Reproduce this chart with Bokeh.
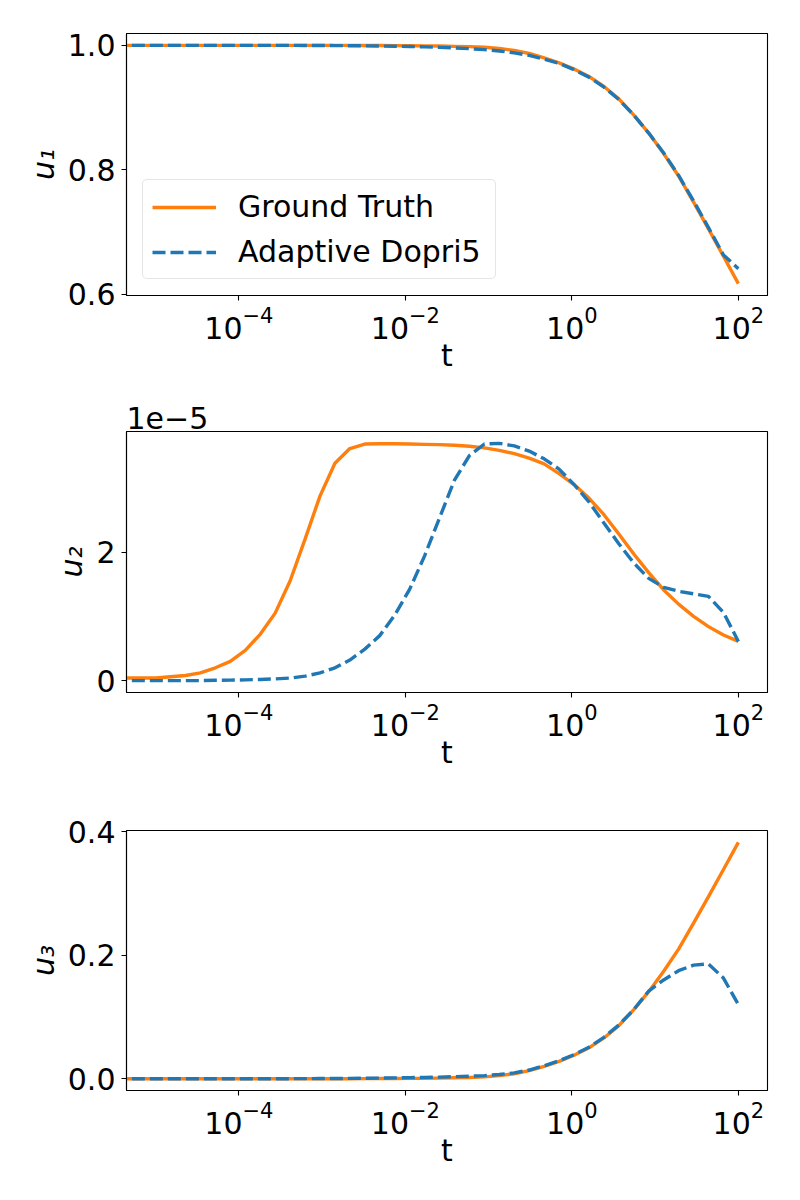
import numpy as np
from bokeh.plotting import figure
from bokeh.layouts import column
from bokeh.models import (Range1d, FixedTicker, PrintfTickFormatter, Legend,
                          LegendItem, Title)
from bokeh.embed import file_html
from bokeh.resources import INLINE

# ---------------- data ----------------
# t = 0 cannot sit on a log axis; like matplotlib, it is clipped to a tiny value
T_ZERO_CLIPPED = 1e-300
log10_t = [-5.000, -4.821, -4.641, -4.462, -4.282, -4.103, -3.923, -3.744,
           -3.564, -3.385, -3.205, -3.026, -2.846, -2.667, -2.487, -2.308,
           -2.128, -1.949, -1.769, -1.590, -1.410, -1.231, -1.051, -0.872,
           -0.692, -0.513, -0.333, -0.154, 0.026, 0.205, 0.385, 0.564,
           0.744, 0.923, 1.103, 1.282, 1.462, 1.641, 1.821, 2.000]
t = [T_ZERO_CLIPPED] + [10.0 ** e for e in log10_t]

u1_truth = [1.0] + [1.0] * 14 + [
    0.9999, 0.9998, 0.9997, 0.9995, 0.9993, 0.999, 0.9985, 0.998, 0.997,
    0.995, 0.992, 0.987, 0.980, 0.972, 0.962, 0.950, 0.934, 0.914, 0.888,
    0.859, 0.826, 0.790, 0.748, 0.705, 0.661, 0.617]
u1_dopri = [1.0] + [1.0] * 10 + [
    0.9999, 0.9998, 0.9997, 0.9995, 0.9993, 0.999, 0.9987, 0.9982, 0.9976,
    0.9969, 0.996, 0.9948, 0.9932, 0.991, 0.988, 0.984, 0.978, 0.971,
    0.961, 0.949, 0.933, 0.913, 0.888, 0.859, 0.827, 0.791, 0.750, 0.707,
    0.663, 0.641]

U2_SCALE = "1e\u22125"   # u2 values below are in units of 1e-5
u2_truth = [0.0] + [
    0.04, 0.06, 0.08, 0.12, 0.20, 0.30, 0.47, 0.72, 1.05, 1.55, 2.20, 2.87,
    3.38, 3.61, 3.68, 3.685, 3.685, 3.68, 3.675, 3.67, 3.66, 3.645, 3.62,
    3.58, 3.53, 3.46, 3.37, 3.22, 3.05, 2.84, 2.58, 2.28, 1.97, 1.68, 1.41,
    1.19, 1.00, 0.84, 0.71, 0.61]
u2_dopri = [0.0] + [
    0.0, 0.0, 0.0, 0.0, 0.005, 0.008, 0.012, 0.018, 0.027, 0.04, 0.07, 0.12,
    0.20, 0.32, 0.49, 0.70, 1.02, 1.42, 1.94, 2.53, 3.12, 3.50, 3.68, 3.69,
    3.65, 3.57, 3.45, 3.29, 3.05, 2.78, 2.45, 2.13, 1.83, 1.59, 1.45, 1.39,
    1.35, 1.31, 1.06, 0.61]

u3_truth = [0.0] + [0.0] * 14 + [
    0.0001, 0.0002, 0.0003, 0.0005, 0.0007, 0.001, 0.0015, 0.002, 0.003,
    0.005, 0.008, 0.013, 0.020, 0.028, 0.038, 0.050, 0.066, 0.086, 0.112,
    0.141, 0.174, 0.210, 0.252, 0.295, 0.339, 0.383]
u3_dopri = [0.0] + [0.0] * 10 + [
    0.0001, 0.0002, 0.0003, 0.0005, 0.0007, 0.001, 0.0013, 0.0017, 0.0021,
    0.0026, 0.0032, 0.004, 0.005, 0.0068, 0.0095, 0.014, 0.021, 0.029,
    0.039, 0.051, 0.067, 0.087, 0.112, 0.142, 0.160, 0.175, 0.184, 0.186,
    0.163, 0.120]

x_ticks = [1e-4, 1e-2, 1.0, 1e2]
y1_ticks = [0.6, 0.8, 1.0]
y2_ticks = [0, 2]
y3_ticks = [0.0, 0.2, 0.4]

series_names = ["Ground Truth", "Adaptive Dopri5"]
ylabels = ["u\u2081", "u\u2082", "u\u2083"]

# ---------------- styling ----------------
FONT = "DejaVu Sans"
FS = "30px"
ORANGE = "#ff7f0e"
BLUE = "#1f77b4"
LW = 3.4
DASH = "13 5"

# matplotlib-like 5% margins
lt = np.log10(np.array(t[1:]))
pad = 0.05 * (lt.max() - lt.min())
x_range = Range1d(10 ** (lt.min() - pad), 10 ** (lt.max() + pad))


def yrange(a, b):
    v = np.array(a + b)
    m = 0.05 * (v.max() - v.min())
    return Range1d(v.min() - m, v.max() + m)


def make_fig(ys, height, top, bottom, ylabel, yticks, fmt):
    p = figure(width=784, height=height, x_axis_type="log",
               x_range=x_range, y_range=yrange(*ys),
               output_backend="svg", toolbar_location=None,
               min_border_left=126, min_border_right=17,
               min_border_top=top, min_border_bottom=bottom)
    p.xgrid.visible = False
    p.ygrid.visible = False
    p.outline_line_color = "black"
    p.outline_line_width = 1.1
    p.outline_line_alpha = 1.0
    p.background_fill_color = "white"
    p.border_fill_color = "white"

    p.xaxis.ticker = FixedTicker(ticks=x_ticks, minor_ticks=[])
    p.yaxis.ticker = FixedTicker(ticks=yticks, minor_ticks=[])
    p.yaxis.formatter = PrintfTickFormatter(format=fmt)
    for ax in (p.xaxis, p.yaxis):
        ax.axis_line_color = "black"
        ax.axis_line_width = 1.1
        ax.major_tick_line_color = "black"
        ax.major_tick_line_width = 1.1
        ax.major_tick_out = 5
        ax.major_tick_in = 0
        ax.minor_tick_line_color = None
        ax.major_label_text_font = FONT
        ax.major_label_text_font_size = FS
        ax.major_label_text_color = "black"
        ax.axis_label_text_font = FONT
        ax.axis_label_text_font_size = FS
        ax.axis_label_text_color = "black"
    p.xaxis.axis_label = "t"
    p.xaxis.axis_label_text_font_style = "normal"
    p.xaxis.major_label_standoff = 5
    p.xaxis.axis_label_standoff = -4
    p.yaxis.axis_label = ylabel
    p.yaxis.axis_label_text_font_style = "italic"
    p.yaxis.major_label_standoff = 6
    p.yaxis.axis_label_standoff = 4

    r1 = p.line(t, ys[0], line_color=ORANGE, line_width=LW)
    r2 = p.line(t, ys[1], line_color=BLUE, line_width=LW, line_dash=DASH)
    return p, r1, r2


p1, a1, b1 = make_fig((u1_truth, u1_dopri), 391, 33, 96, ylabels[0], y1_ticks, "%.1f")
p2, a2, b2 = make_fig((u2_truth, u2_dopri), 397, 40, 96, ylabels[1], y2_ticks, "%.0f")
p3, a3, b3 = make_fig((u3_truth, u3_dopri), 392, 42, 90, ylabels[2], y3_ticks, "%.1f")

legend = Legend(items=[LegendItem(label=series_names[0], renderers=[a1]),
                       LegendItem(label=series_names[1], renderers=[b1])],
                location="bottom_left")
legend.label_text_font = FONT
legend.label_text_font_size = FS
legend.label_text_color = "black"
legend.glyph_width = 64
legend.label_standoff = 22
legend.label_width = 248
legend.padding = 9
legend.spacing = 10
legend.margin = 16
legend.border_line_color = "#cccccc"
legend.border_line_width = 1.1
legend.border_radius = 5
legend.background_fill_color = "white"
legend.background_fill_alpha = 0.8
p1.add_layout(legend, "center")

title = Title(text=U2_SCALE, align="left", text_font=FONT, text_font_size=FS,
              text_font_style="normal", text_color="black", standoff=5)
p2.add_layout(title, "above")

layout = column(p1, p2, p3, spacing=0)
open("out.html", "w").write(file_html(layout, INLINE))
